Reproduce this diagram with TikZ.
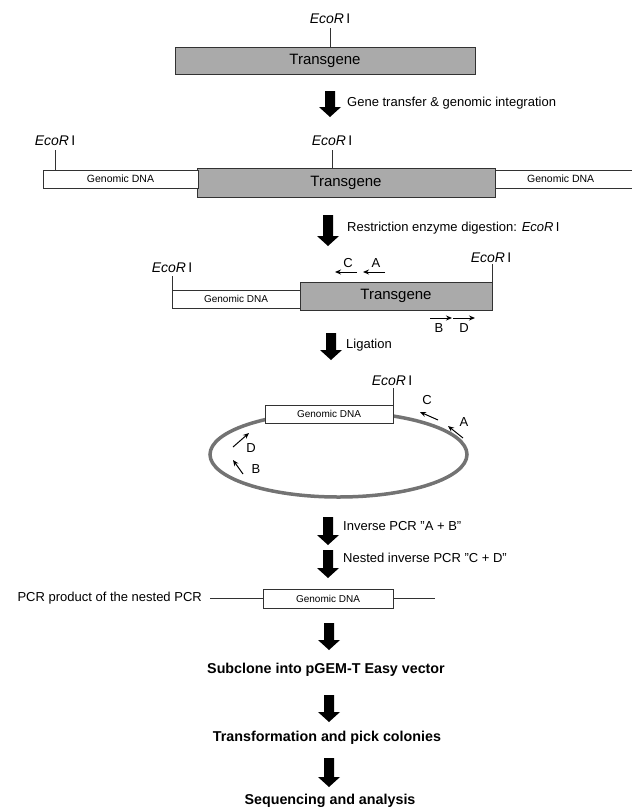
\documentclass[tikz,border=0pt]{standalone}
\usepackage{fontspec}
\setmainfont{Liberation Sans}
\usetikzlibrary{arrows.meta}
\definecolor{tgray}{RGB}{170,170,170}
\definecolor{ringgray}{RGB}{115,115,115}
\definecolor{linegray}{RGB}{50,50,50}
\newcommand{\fsz}[1]{\fontsize{#1}{#1}\selectfont}
\newcommand{\eco}{\textit{EcoR}\,I}
\begin{document}
\begin{tikzpicture}[x=1pt,y=-1pt,
  tgbox/.style={draw=linegray, line width=0.9pt, fill=tgray, inner sep=0pt, outer sep=0pt, font=\fsz{15}},
  gdbox/.style={draw=linegray, line width=0.8pt, fill=white, inner sep=0pt, outer sep=0pt, font=\fsz{10}},
  ecolab/.style={inner sep=0pt, anchor=base, font=\fsz{14}},
  steplab/.style={inner sep=0pt, anchor=west, font=\fsz{13}},
  finallab/.style={inner sep=0pt, font=\bfseries\fsz{14.3}},
  tick/.style={draw=linegray, line width=0.8pt},
  pcrline/.style={draw=linegray, line width=1pt},
  primer/.style={-{Stealth[length=6pt,width=5pt]}, line width=1pt},
  primlab/.style={inner sep=0pt, font=\fsz{13}},
  pics/blockarrow/.style={code={
    \fill[black] (-5,0) -- (5,0) -- (5,#1-10) -- (11,#1-10) -- (0,#1) -- (-11,#1-10) -- (-5,#1-10) -- cycle;}}
]
\useasboundingbox (0,0) rectangle (632,812);

% ---------- Row 1 ----------
\node[tgbox, minimum width=300pt, minimum height=27pt, anchor=north west] (tg1) at (175,47) {Transgene};
\node[ecolab] (e1) at (330,23) {\eco};
\draw[tick] ([yshift=-5pt]e1.south) -- (e1.south |- tg1.north);

\pic at (330,91) {blockarrow=26};
\node[steplab] (s1) at (347,103) {Gene transfer \& genomic integration};

% ---------- Row 2 ----------
\node[tgbox, minimum width=298pt, minimum height=29pt, anchor=north west] (tg2) at (197,168) {Transgene};
\node[gdbox, minimum width=155pt, minimum height=18pt, anchor=north west, font=\fsz{10.5}] (gl2) at (43,170) {Genomic DNA};
\node[inner sep=0pt, minimum width=137pt, minimum height=18pt, anchor=north west, font=\fsz{10.5}] (gr2) at (495,170) {\hspace*{-6pt}Genomic DNA};
\draw[tick] (gr2.north west) -- (gr2.north east);
\draw[tick] (gr2.south west) -- (gr2.south east);
\draw[tick] (gr2.north west) -- (gr2.south west);
\node[ecolab] (e2) at (55,145) {\eco};
\draw[tick] ([yshift=-5pt]e2.south) -- (e2.south |- gl2.north);
\node[ecolab] (e3) at (332,145) {\eco};
\draw[tick] ([yshift=-5pt]e3.south) -- (e3.south |- tg2.north);

\pic at (328,215) {blockarrow=31};
\node[steplab] (s2) at (347,228) {Restriction enzyme digestion: \eco};

% ---------- Row 3 ----------
\node[tgbox, minimum width=192pt, minimum height=28pt, anchor=north west] (tg3) at (300,282) {Transgene};
\node[gdbox, minimum width=128pt, minimum height=18pt, anchor=north west] (gl3) at (172,290) {Genomic DNA};
\node[ecolab] (e4) at (172,272) {\eco};
\draw[tick] ([yshift=-4pt]e4.south) -- (gl3.north west);
\node[ecolab] (e5) at (491,262) {\eco};
\draw[tick] ([yshift=-2pt]e5.south -| tg3.north east) -- (tg3.north east);

% primers C, A
\coordinate (c0) at (357,272); \coordinate (c1) at (335,272);
\draw[primer] (c0) -- (c1);
\node[primlab] (lc) at (348,263) {C};
\coordinate (a0) at (385,272); \coordinate (a1) at (363,272);
\draw[primer] (a0) -- (a1);
\node[primlab] (la) at (376,263) {A};
% primers B, D
\coordinate (b0) at (430,318); \coordinate (b1) at (452,318);
\draw[primer] (b0) -- (b1);
\node[primlab] (lb) at (439,328) {B};
\coordinate (d0) at (453,318); \coordinate (d1) at (475,318);
\draw[primer] (d0) -- (d1);
\node[primlab] (ld) at (464,328) {D};

\pic at (331,333) {blockarrow=27};
\node[steplab] (s3) at (346,345) {Ligation};

% ---------- Circle ----------
\draw[ringgray, line width=3.5pt] (338.5,454.5) ellipse [x radius=128.5, y radius=42.5];
\node[gdbox, minimum width=128pt, minimum height=18pt, anchor=north west] (gc) at (265,405) {Genomic DNA};
\node[ecolab] (e6) at (392,385) {\eco};
\draw[tick] ([yshift=-3pt]e6.south -| gc.north east) -- (gc.north east);

\coordinate (pc0) at (438,420); \coordinate (pc1) at (420,412);
\draw[primer] (pc0) -- (pc1);
\node[primlab] (lc2) at (427,400) {C};
\coordinate (pa0) at (463,438); \coordinate (pa1) at (448,426);
\draw[primer] (pa0) -- (pa1);
\node[primlab] (la2) at (464,422) {A};
\coordinate (pd0) at (233,447); \coordinate (pd1) at (249,433);
\draw[primer] (pd0) -- (pd1);
\node[primlab] (ld2) at (251,448) {D};
\coordinate (pb0) at (243,474); \coordinate (pb1) at (233,460);
\draw[primer] (pb0) -- (pb1);
\node[primlab] (lb2) at (256,469) {B};

% ---------- PCR steps ----------
\pic at (328,517) {blockarrow=28};
\node[steplab] (s4) at (343,526) {Inverse PCR "A + B"};
\pic at (328,550) {blockarrow=28};
\node[steplab] (s5) at (343,558) {Nested inverse PCR "C + D"};

\node[gdbox, minimum width=130pt, minimum height=19pt, anchor=north west] (gp) at (263,589) {Genomic DNA};
\node[inner sep=0pt, anchor=east, font=\fsz{13}] (pcrlab) at (202,598) {PCR product of the nested PCR};
\coordinate (pl) at (210,598.5); \coordinate (pr) at (435,598.5);
\draw[pcrline] (pl) -- (pl -| gp.west);
\draw[pcrline] (pr -| gp.east) -- (pr);

% ---------- Final steps ----------
\pic at (329,623) {blockarrow=27};
\node[finallab] (f1) at (326,670) {Subclone into pGEM-T Easy vector};
\pic at (329,695) {blockarrow=27};
\node[finallab] (f2) at (327,738) {Transformation and pick colonies};
\pic at (329,758) {blockarrow=29};
\node[finallab] (f3) at (330,801) {Sequencing and analysis};
\end{tikzpicture}
\end{document}
